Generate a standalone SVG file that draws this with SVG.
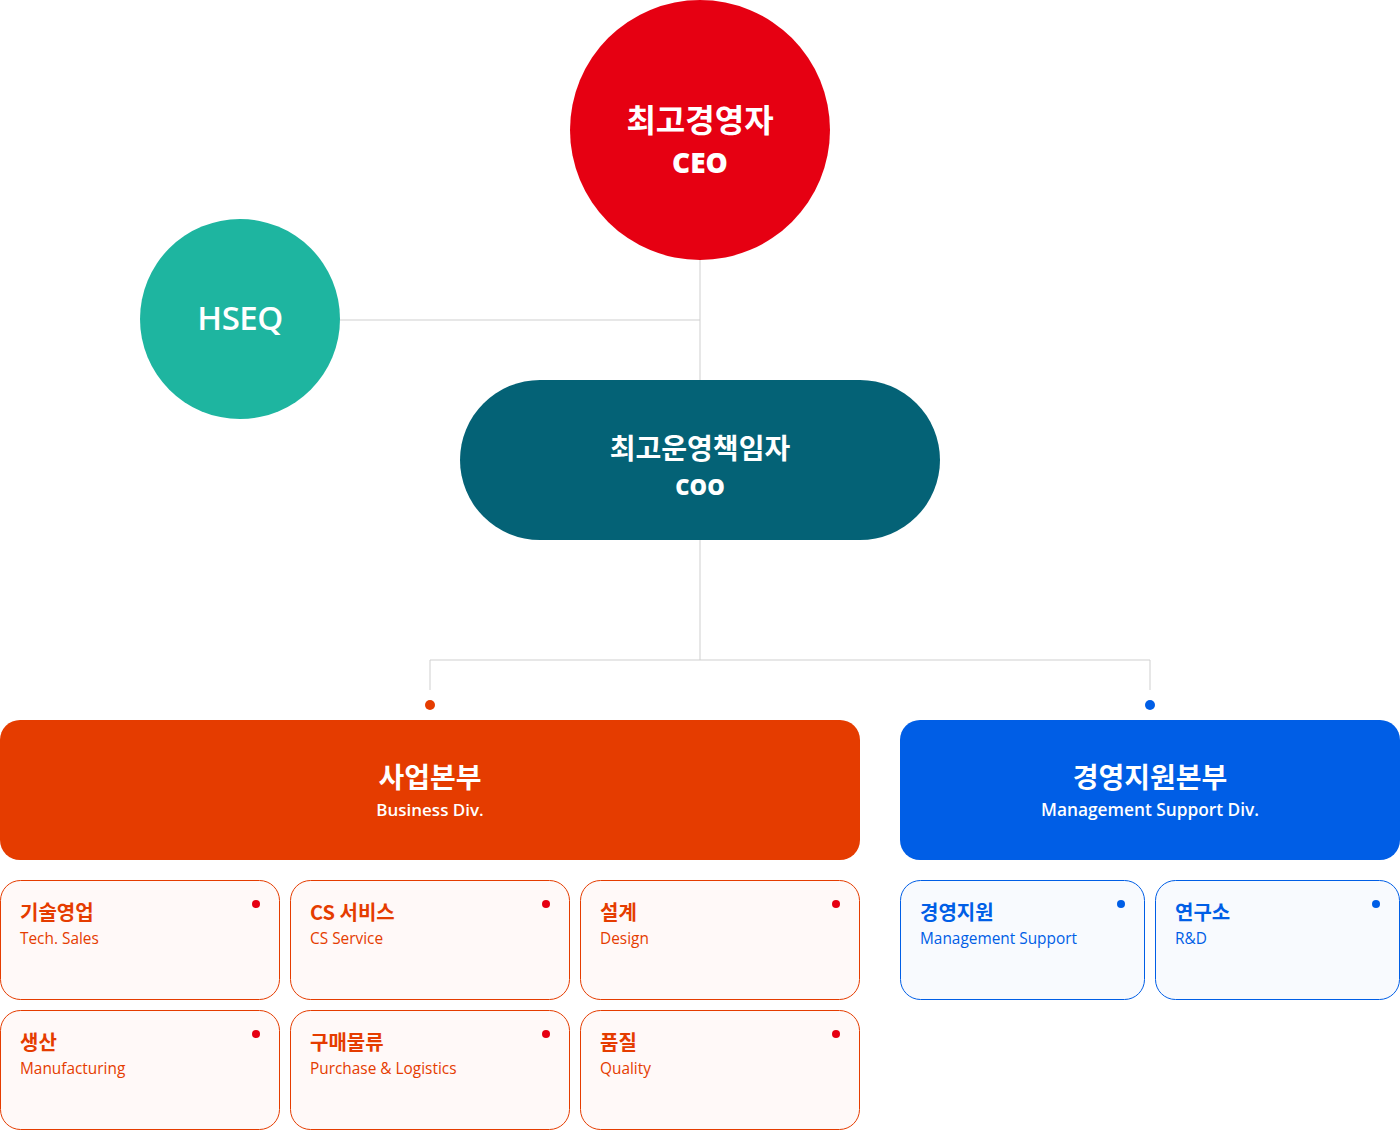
<svg xmlns="http://www.w3.org/2000/svg" width="1400" height="1130" viewBox="0 0 1400 1130">
<style>
.ko{font-family:"Noto Sans CJK KR","Noto Sans",sans-serif;font-weight:700}
.en{font-family:"Open Sans","Noto Sans",sans-serif}
.w{fill:#fff}
.conn{stroke:#cfcfcf;stroke-width:1;fill:none}
.oc{fill:#FFF9F8;stroke:#E53C00;stroke-width:1}
.bc{fill:#F8FAFE;stroke:#005EE6;stroke-width:1}
.ot{fill:#E53C00}
.bt{fill:#005EE6}
.t{font-size:20px}
.s{font-size:15.4px}
</style>
<g id="connectors">
<path class="conn" d="M700 260V380M340 320H700M700 540V660M430 690V660H1150V690"/>
<circle cx="430" cy="705" r="5" fill="#E53C00"/>
<circle cx="1150" cy="705" r="5" fill="#005EE6"/>
</g>
<g id="ceo">
<circle cx="700" cy="130" r="130" fill="#E60012"/>
<text x="700" y="132" text-anchor="middle" class="ko w" font-size="32">최고경영자</text>
<text x="700" y="173" text-anchor="middle" class="en w" font-size="28" font-weight="800">CEO</text>
</g>
<g id="hseq">
<circle cx="240" cy="319" r="100" fill="#1EB5A0"/>
<text x="240" y="330" text-anchor="middle" class="en w" font-size="33" font-weight="600" letter-spacing="-0.5">HSEQ</text>
</g>
<g id="coo">
<rect x="460" y="380" width="480" height="160" rx="80" fill="#046276"/>
<text x="700" y="459" text-anchor="middle" class="ko w" font-size="28">최고운영책임자</text>
<text x="700" y="495" text-anchor="middle" class="en w" font-size="22" font-weight="800">COO</text>
</g>
<g id="business">
<rect x="0" y="720" width="860" height="140" rx="20" fill="#E53C00"/>
<text x="430" y="788" text-anchor="middle" class="ko w" font-size="28">사업본부</text>
<text x="430" y="816" text-anchor="middle" class="en w" font-size="17" font-weight="600">Business Div.</text>
</g>
<g id="management">
<rect x="900" y="720" width="500" height="140" rx="20" fill="#005EE6"/>
<text x="1150" y="788" text-anchor="middle" class="ko w" font-size="28">경영지원본부</text>
<text x="1150" y="816" text-anchor="middle" class="en w" font-size="17.3" font-weight="600">Management Support Div.</text>
</g>
<g id="tech-sales">
<rect class="oc" x="0.5" y="880.5" width="279" height="119" rx="20"/>
<circle cx="256" cy="904" r="4" fill="#E60012"/>
<text x="20" y="920" class="ko ot t">기술영업</text>
<text x="20" y="944" class="en ot s">Tech. Sales</text>
</g>
<g id="cs-service">
<rect class="oc" x="290.5" y="880.5" width="279" height="119" rx="20"/>
<circle cx="546" cy="904" r="4" fill="#E60012"/>
<text x="310" y="920" class="ko ot t">CS 서비스</text>
<text x="310" y="944" class="en ot s">CS Service</text>
</g>
<g id="design">
<rect class="oc" x="580.5" y="880.5" width="279" height="119" rx="20"/>
<circle cx="836" cy="904" r="4" fill="#E60012"/>
<text x="600" y="920" class="ko ot t">설계</text>
<text x="600" y="944" class="en ot s">Design</text>
</g>
<g id="manufacturing">
<rect class="oc" x="0.5" y="1010.5" width="279" height="119" rx="20"/>
<circle cx="256" cy="1034" r="4" fill="#E60012"/>
<text x="20" y="1050" class="ko ot t">생산</text>
<text x="20" y="1074" class="en ot s">Manufacturing</text>
</g>
<g id="purchase">
<rect class="oc" x="290.5" y="1010.5" width="279" height="119" rx="20"/>
<circle cx="546" cy="1034" r="4" fill="#E60012"/>
<text x="310" y="1050" class="ko ot t">구매물류</text>
<text x="310" y="1074" class="en ot s">Purchase &amp; Logistics</text>
</g>
<g id="quality">
<rect class="oc" x="580.5" y="1010.5" width="279" height="119" rx="20"/>
<circle cx="836" cy="1034" r="4" fill="#E60012"/>
<text x="600" y="1050" class="ko ot t">품질</text>
<text x="600" y="1074" class="en ot s">Quality</text>
</g>
<g id="mgmt-support">
<rect class="bc" x="900.5" y="880.5" width="244" height="119" rx="20"/>
<circle cx="1121" cy="904" r="4" fill="#005EE6"/>
<text x="920" y="920" class="ko bt t">경영지원</text>
<text x="920" y="944" class="en bt s">Management Support</text>
</g>
<g id="rnd">
<rect class="bc" x="1155.5" y="880.5" width="244" height="119" rx="20"/>
<circle cx="1376" cy="904" r="4" fill="#005EE6"/>
<text x="1175" y="920" class="ko bt t">연구소</text>
<text x="1175" y="944" class="en bt s">R&amp;D</text>
</g>
</svg>
